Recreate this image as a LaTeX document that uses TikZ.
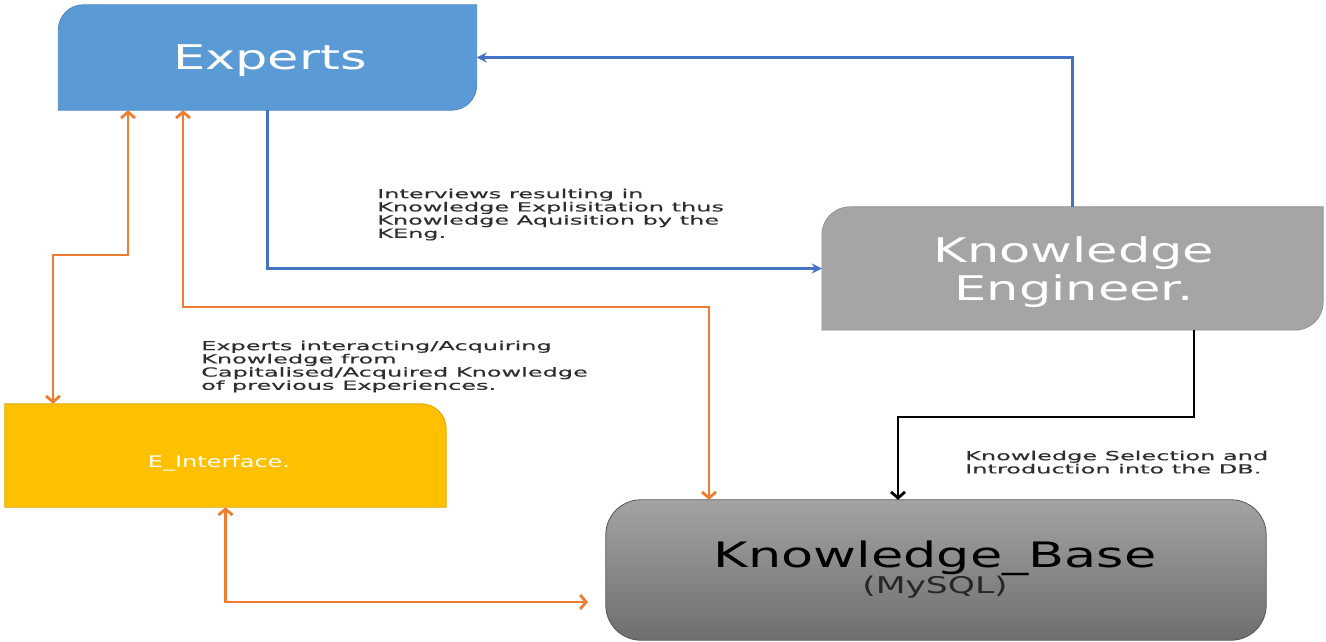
\documentclass[tikz,border=0pt]{standalone}
\usepackage{fontspec}
\setmainfont{DejaVu Sans}
\newfontfamily\wide[FakeStretch=1.5]{DejaVu Sans}
\newfontfamily\notefont[FakeStretch=1.92,FakeBold=0.5]{DejaVu Sans}
\newcommand\notesetup{\notefont\fontsize{12.5}{13.2}\selectfont}
\usetikzlibrary{arrows.meta,backgrounds,calc}
\definecolor{expblue}{HTML}{5B9BD5}
\definecolor{expedge}{HTML}{4A86C0}
\definecolor{linkblue}{HTML}{4472C4}
\definecolor{keggray}{HTML}{A5A5A5}
\definecolor{ifyellow}{HTML}{FFC000}
\definecolor{ifedge}{HTML}{D9A400}
\definecolor{linkorange}{HTML}{ED7D31}
\definecolor{labelgray}{HTML}{2E2E2E}
\definecolor{kbtop}{HTML}{A3A3A3}
\definecolor{kbbottom}{HTML}{6E6E6E}
\definecolor{kbedge}{HTML}{555555}
\begin{document}
\begin{tikzpicture}[x=1pt,y=1pt,
  boxnode/.style={inner sep=0pt, draw=none},
  boxtext/.style={inner sep=0pt, text=white, align=center},
  note/.style={inner sep=0pt, anchor=north west, align=left, text=labelgray,
    font=\notesetup},
  bluelink/.style={draw=linkblue, line width=2.4pt, -{Stealth[length=10pt,width=10pt]}},
  orangelink/.style={draw=linkorange, line width=2.8pt,
    {Straight Barb[length=6pt,width=14pt]}-{Straight Barb[length=6pt,width=14pt]}},
  blacklink/.style={draw=black, line width=2.8pt, -{Straight Barb[length=6pt,width=14pt]}},
]
\useasboundingbox (0,0) rectangle (1326,642);

% boxes (outline drawn on the background layer below)
\node[boxnode, minimum width=418pt, minimum height=105pt] (ex) at (267.5,584.5) {};
\node[boxnode, minimum width=501pt, minimum height=123pt] (ke) at (1072.5,373.5) {};
\node[boxnode, minimum width=441pt, minimum height=103pt] (ei) at (225.5,186.5) {};
\node[boxnode, minimum width=660pt, minimum height=140pt] (kb) at (936,72) {};

% box texts
\node[boxtext, font=\wide\fontsize{34}{34}\selectfont] (extext) at (270,581) {Experts};
\node[boxtext, font=\wide\fontsize{34}{38}\selectfont] (ketext) at (1074,370) {Knowledge\\Engineer.};
\node[boxtext, font=\wide\fontsize{16}{16}\selectfont] (eitext) at (219,179) {E\_Interface.};
\node[inner sep=0pt, text=black, font=\wide\fontsize{35}{35}\selectfont] (kbname) at (935,84) {Knowledge\_Base};
\node[inner sep=0pt, text=black!85, font=\wide\fontsize{23}{23}\selectfont] (kbsub) at (935,55) {(MySQL)};

\begin{scope}[on background layer]
  \filldraw[fill=expblue, draw=expedge, line width=0.8pt]
    (ex.south west) -- ($(ex.north west)+(0,-25)$) arc[start angle=180,end angle=90,radius=25]
    -- (ex.north east) -- ($(ex.south east)+(0,25)$) arc[start angle=0,end angle=-90,radius=25]
    -- cycle;
  \filldraw[fill=keggray, draw=keggray!85!black, line width=0.6pt]
    (ke.south west) -- ($(ke.north west)+(0,-28)$) arc[start angle=180,end angle=90,radius=28]
    -- (ke.north east) -- ($(ke.south east)+(0,28)$) arc[start angle=0,end angle=-90,radius=28]
    -- cycle;
  \filldraw[fill=ifyellow, draw=ifedge, line width=0.8pt]
    (ei.south west) -- (ei.north west) -- ($(ei.north east)+(-25,0)$)
    arc[start angle=90,end angle=0,radius=25] -- (ei.south east) -- cycle;
  \shadedraw[top color=kbtop, bottom color=kbbottom, draw=kbedge, line width=0.8pt,
    rounded corners=35pt] (kb.south west) rectangle (kb.north east);
\end{scope}

% connectors
\draw[bluelink] (ex.south) |- (ke.west);
\draw[bluelink] (ke.north) |- (ex.east);

\coordinate (oa1) at (53,387);
\coordinate (oa2) at (128,387);
\draw[orangelink] (ei.north -| oa1) -- (oa1) -- (oa2) -- (ex.south -| oa2);

\coordinate (ob1) at (183,335);
\coordinate (ob2) at (709,335);
\draw[orangelink] (ex.south -| ob1) -- (ob1) -- (ob2) -- (kb.north -| ob2);

\coordinate (oc1) at (225.5,40);
\coordinate (oc2) at (588,40);
\draw[orangelink] (ei.south) -- (oc1) -- (oc2);

\coordinate (k1) at (1194,225);
\coordinate (k2) at (898,225);
\draw[blacklink] (ke.south -| k1) -- (k1) -- (k2) -- (kb.north -| k2);

% notes
\node[note] (n1) at (377,453.5) {Interviews resulting in\\Knowledge Explisitation thus\\Knowledge Aquisition by the\\KEng.};
\node[note] (n2) at (201,301.5) {Experts interacting/Acquiring\\Knowledge from\\Capitalised/Acquired Knowledge\\of previous Experiences.};
\node[note] (n3) at (965,191.5) {Knowledge Selection and\\Introduction into the DB.};
\end{tikzpicture}
\end{document}
